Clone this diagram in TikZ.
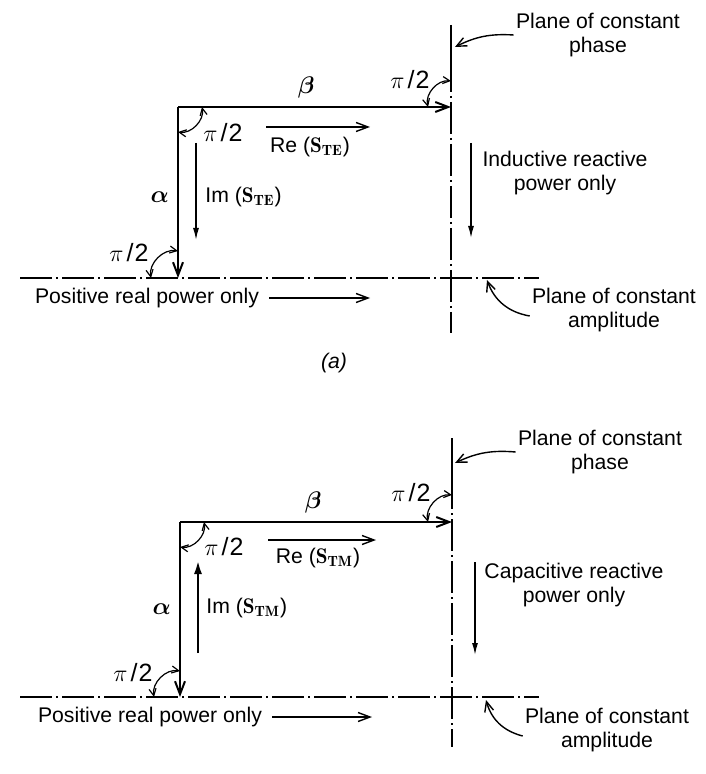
\documentclass[tikz,border=0pt]{standalone}
\usepackage{amsmath}
\usepackage{fontspec}
\setsansfont{Liberation Sans}
\usepackage{tikz}
\usetikzlibrary{positioning,arrows.meta,calc}

\begin{document}
\begin{tikzpicture}[x=0.5pt, y=-0.5pt,
  lab/.style={font=\sffamily\fontsize{10.6}{12}\selectfont, inner sep=1pt, align=center},
  pilab/.style={font=\sffamily\fontsize{12.5}{14}\selectfont, inner sep=1pt},
  greek/.style={font=\fontsize{13}{14}\selectfont, inner sep=1pt},
  plane/.style={line width=1pt, dash pattern=on 16pt off 2pt on 1pt off 2pt},
  ray/.style={line width=1pt, -{Straight Barb[length=6.5pt,width=5pt]}},
  ang/.style={line width=0.6pt, {Straight Barb[length=3.5pt,width=3.5pt]}-{Straight Barb[length=3.5pt,width=3.5pt]}},
  thinarr/.style={line width=0.7pt, -{Straight Barb[length=6pt,width=4.5pt]}},
  fillarr/.style={line width=0.7pt, -{Latex[length=6pt,width=3pt]}},
  callout/.style={line width=0.7pt, -{Straight Barb[length=5pt,width=4.5pt]}}]
\useasboundingbox (0,0) rectangle (705,774);

% (a) TE
\coordinate (cornA) at (178,107);
\coordinate (betaA) at (451,107);
\coordinate (alphaA) at (178,278);
\coordinate (phTopA) at (451,25);
\coordinate (phMidA) at (451,60);
\coordinate (phBotA) at (451,333);
\coordinate (amLA) at (20,278);
\coordinate (amRA) at (539,278);
\draw[plane] (amLA) -- (amRA);
\draw[line width=1pt] (phTopA) -- (phMidA);
\draw[plane] (phMidA) -- (phBotA);
\draw[ray] (cornA) -- node[greek, pos=0.47, above=3pt] (betaLabA) {$\boldsymbol{\beta}$} (betaA);
\draw[ray] (cornA) -- node[greek, pos=0.53, left=3pt] (alphaLabA) {$\boldsymbol{\alpha}$} (alphaA);
\draw[ang] ($(cornA)+(24,0)$) to[bend left=55] ($(cornA)+(0,25)$);
\draw[ang] ($(betaA)+(-23,0)$) to[bend left=55] ($(betaA)+(0,-26)$);
\draw[ang] ($(alphaA)+(-27,0)$) to[bend left=55] ($(alphaA)+(0,-27)$);
\node[pilab] (piCornA) at (223,133) {$\pi$\kern1.5pt/\kern0.5pt2};
\node[pilab] (piPhA) at (410,80) {$\pi$\kern1.5pt/\kern0.5pt2};
\node[pilab] (piAmA) at (129,253) {$\pi$\kern1.5pt/\kern0.5pt2};
\coordinate (reSA) at (266,127);
\coordinate (reEA) at (370,127);
\draw[thinarr] (reSA) -- (reEA);
\node[lab] (reLabA) at (310,147) {Re ($\mathbf{S}_{\mathbf{TE}}$)};
\coordinate (imSA) at (196,143);
\coordinate (imEA) at (196,240);
\draw[fillarr] (imSA) -- (imEA);
\node[lab, anchor=west] (imLabA) at (203,197) {Im ($\mathbf{S}_{\mathbf{TE}}$)};
\coordinate (indSA) at (471,143);
\coordinate (indEA) at (471,238);
\draw[fillarr] (indSA) -- (indEA);
\node[lab] (indA) at (565,173) {Inductive reactive\\power only};
\node[lab] (phTxtA) at (598,35) {Plane of constant\\phase};
\coordinate (phHitA) at (455,47);
\draw[callout] (phTxtA.west) to[bend right=15] (phHitA);
\node[lab] (amTxtA) at (614,310) {Plane of constant\\amplitude};
\coordinate (amHitA) at (487,280);
\draw[callout] ([yshift=-3pt]amTxtA.west) to[bend left=30] (amHitA);
\node[lab] (posA) at (147,298) {Positive real power only};
\coordinate (posEA) at (370,298);
\draw[thinarr] ([xshift=4pt]posA.east) -- (posEA);
\node[lab, font=\sffamily\itshape\fontsize{10.6}{12}\selectfont] (capA) at (334,363) {(a)};

% (b) TM
\coordinate (cornB) at (180,522);
\coordinate (betaB) at (452,522);
\coordinate (alphaB) at (180,697);
\coordinate (phTopB) at (452,438);
\coordinate (phMidB) at (452,477);
\coordinate (phBotB) at (452,747);
\coordinate (amLB) at (20,697);
\coordinate (amRB) at (539,697);
\draw[plane] (amLB) -- (amRB);
\draw[line width=1pt] (phTopB) -- (phMidB);
\draw[plane] (phMidB) -- (phBotB);
\draw[ray] (cornB) -- node[greek, pos=0.49, above=3pt] (betaLabB) {$\boldsymbol{\beta}$} (betaB);
\draw[ray] (cornB) -- node[greek, pos=0.5, left=3pt] (alphaLabB) {$\boldsymbol{\alpha}$} (alphaB);
\draw[ang] ($(cornB)+(24,0)$) to[bend left=55] ($(cornB)+(0,25)$);
\draw[ang] ($(betaB)+(-24,0)$) to[bend left=55] ($(betaB)+(0,-27)$);
\draw[ang] ($(alphaB)+(-26,0)$) to[bend left=55] ($(alphaB)+(0,-26)$);
\node[pilab] (piCornB) at (224,547) {$\pi$\kern1.5pt/\kern0.5pt2};
\node[pilab] (piPhB) at (411,493) {$\pi$\kern1.5pt/\kern0.5pt2};
\node[pilab] (piAmB) at (133,673) {$\pi$\kern1.5pt/\kern0.5pt2};
\coordinate (reSB) at (268,540);
\coordinate (reEB) at (376,540);
\draw[thinarr] (reSB) -- (reEB);
\node[lab] (reLabB) at (318,558) {Re ($\mathbf{S}_{\mathbf{TM}}$)};
\coordinate (imSB) at (198,653);
\coordinate (imEB) at (198,560);
\draw[fillarr, line width=1.3pt, -{Latex[length=7pt,width=4pt]}] (imSB) -- (imEB);
\node[lab, anchor=west] (imLabB) at (204,608) {Im ($\mathbf{S}_{\mathbf{TM}}$)};
\coordinate (capSB) at (475,562);
\coordinate (capEB) at (475,655);
\draw[fillarr] (capSB) -- (capEB);
\node[lab] (capacB) at (574,585) {Capacitive reactive\\power only};
\node[lab] (phTxtB) at (600,452) {Plane of constant\\phase};
\coordinate (phHitB) at (455,463);
\draw[callout] (phTxtB.west) to[bend right=15] (phHitB);
\node[lab] (amTxtB) at (607,730) {Plane of constant\\amplitude};
\coordinate (amHitB) at (486,700);
\draw[callout] ([yshift=-3pt]amTxtB.west) to[bend left=30] (amHitB);
\node[lab] (posB) at (150,717) {Positive real power only};
\coordinate (posEB) at (372,717);
\draw[thinarr] ([xshift=4pt]posB.east) -- (posEB);
\end{tikzpicture}
\end{document}
